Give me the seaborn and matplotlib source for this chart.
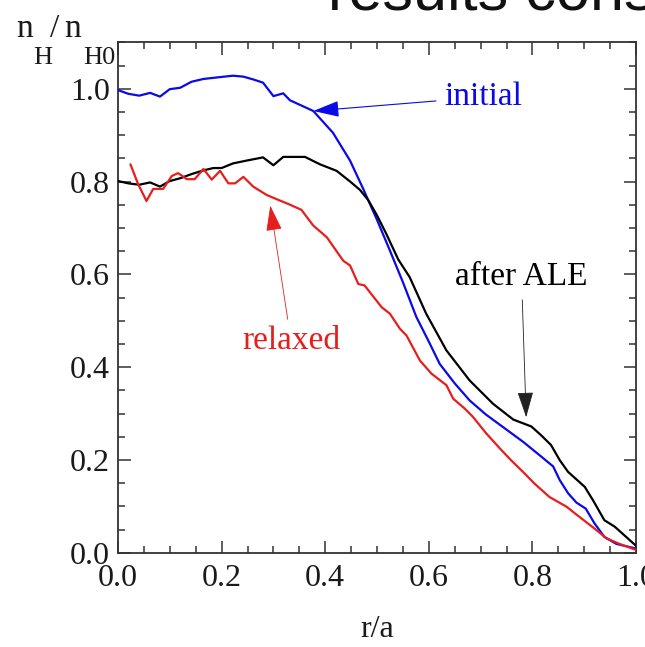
import numpy as np
import pandas as pd
import matplotlib
matplotlib.use("Agg")
import matplotlib.pyplot as plt
import seaborn as sns
from matplotlib.ticker import MultipleLocator

# ---------------- data ----------------
blue_x = [0.0, 0.02, 0.041, 0.062, 0.081, 0.10, 0.12, 0.142, 0.165, 0.197, 0.222, 0.242,
          0.261, 0.28, 0.30, 0.319, 0.332, 0.377, 0.415, 0.448, 0.473, 0.499, 0.525, 0.55,
          0.576, 0.60, 0.621, 0.65, 0.679, 0.71, 0.743, 0.782, 0.814, 0.84, 0.853, 0.869,
          0.885, 0.903, 0.92, 0.939, 0.962, 0.981, 1.0]
blue_y = [0.997, 0.989, 0.985, 0.991, 0.983, 0.999, 1.002, 1.015, 1.021, 1.025, 1.028, 1.026,
          1.020, 1.013, 0.984, 0.990, 0.975, 0.952, 0.905, 0.845, 0.785, 0.72, 0.651, 0.583,
          0.508, 0.455, 0.407, 0.365, 0.328, 0.298, 0.271, 0.239, 0.210, 0.186, 0.156, 0.128,
          0.108, 0.095, 0.063, 0.034, 0.019, 0.014, 0.009]

black_x = [0.0, 0.02, 0.041, 0.062, 0.081, 0.10, 0.12, 0.142, 0.165, 0.184, 0.20, 0.222,
           0.248, 0.28, 0.30, 0.319, 0.361, 0.39, 0.422, 0.448, 0.467, 0.483, 0.50, 0.518,
           0.541, 0.563, 0.595, 0.634, 0.679, 0.724, 0.763, 0.798, 0.817, 0.836, 0.853,
           0.869, 0.885, 0.901, 0.917, 0.939, 0.959, 0.981, 1.0]
black_y = [0.801, 0.796, 0.793, 0.798, 0.789, 0.801, 0.807, 0.816, 0.824, 0.829, 0.829, 0.839,
           0.845, 0.852, 0.835, 0.853, 0.853, 0.837, 0.823, 0.800, 0.782, 0.760, 0.727, 0.687,
           0.632, 0.594, 0.515, 0.436, 0.371, 0.321, 0.287, 0.272, 0.253, 0.232, 0.199,
           0.174, 0.158, 0.142, 0.113, 0.070, 0.056, 0.034, 0.015]

red_x = [0.024, 0.039, 0.055, 0.068, 0.087, 0.104, 0.116, 0.133, 0.148, 0.165, 0.181, 0.197,
         0.213, 0.226, 0.242, 0.261, 0.287, 0.306, 0.332, 0.354, 0.377, 0.403, 0.435, 0.448,
         0.464, 0.476, 0.509, 0.525, 0.544, 0.557, 0.583, 0.605, 0.634, 0.647, 0.669, 0.685,
         0.711, 0.737, 0.759, 0.782, 0.804, 0.833, 0.866, 0.891, 0.92, 0.943, 0.968, 1.0]
red_y = [0.837, 0.794, 0.758, 0.784, 0.784, 0.812, 0.818, 0.805, 0.805, 0.827, 0.804, 0.823,
         0.796, 0.796, 0.810, 0.789, 0.771, 0.762, 0.750, 0.739, 0.705, 0.680, 0.629, 0.619,
         0.579, 0.576, 0.529, 0.515, 0.483, 0.468, 0.414, 0.386, 0.361, 0.332, 0.311, 0.293,
         0.257, 0.225, 0.199, 0.174, 0.149, 0.120, 0.099, 0.077, 0.052, 0.031, 0.019, 0.006]

x_ticks = [0.0, 0.2, 0.4, 0.6, 0.8, 1.0]
y_ticks = [0.0, 0.2, 0.4, 0.6, 0.8, 1.0]

BLUE = "#0a0ae6"
RED = "#e61e1e"
BLACK = "#000000"

# ---------------- style ----------------
sns.set_style("ticks")
plt.rcParams["font.family"] = ["Liberation Serif", "DejaVu Serif"]

W, H = 645, 647
fig = plt.figure(figsize=(W / 100, H / 100), dpi=100)
ax = fig.add_axes([118 / W, 1 - 552.7 / H, (636 - 118) / W, (552.7 - 42.3) / H])

df = pd.concat([
    pd.DataFrame({"r": blue_x, "n": blue_y, "case": "initial"}),
    pd.DataFrame({"r": black_x, "n": black_y, "case": "after ALE"}),
    pd.DataFrame({"r": red_x, "n": red_y, "case": "relaxed"}),
])
sns.lineplot(data=df, x="r", y="n", hue="case", sort=False, estimator=None,
             palette={"initial": BLUE, "after ALE": BLACK, "relaxed": RED},
             linewidth=1.6, legend=False, ax=ax, zorder=3)

ax.set_xlim(0, 1.0)
ax.set_ylim(0, 1.1)
ax.set_xticks(x_ticks)
ax.set_yticks(y_ticks)
ax.set_xticklabels([f"{v:.1f}" for v in x_ticks])
ax.set_yticklabels([f"{v:.1f}" for v in y_ticks])
ax.xaxis.set_minor_locator(MultipleLocator(0.05))
ax.yaxis.set_minor_locator(MultipleLocator(0.05))
ax.tick_params(which="both", direction="in", top=True, right=True, colors="#333333",
               width=1.1, labelcolor="#1a1a1a", labelsize=23)
ax.tick_params(which="major", length=9)
ax.tick_params(which="minor", length=5)
ax.tick_params(axis="x", pad=8)
ax.tick_params(axis="y", pad=6)
for s in ax.spines.values():
    s.set_color("#333333")
    s.set_linewidth(1.3)
    s.set_visible(True)

ax.set_xlabel("r/a", fontsize=23, labelpad=16, color="#1a1a1a")
ax.set_ylabel("")

# y label at the top left: n_H / n_H0
big = dict(fontsize=24, color="#1a1a1a", va="baseline")
small = dict(fontsize=19, color="#1a1a1a", va="baseline")
fig.text(16 / W, 1 - 37 / H, "n", **big)
fig.text(33 / W, 1 - 64 / H, "H", **small)
fig.text(50 / W, 1 - 37 / H, "/", **big)
fig.text(64 / W, 1 - 37 / H, "n", **big)
fig.text(83 / W, 1 - 64 / H, "H0", **small)

# slide title fragment cut off at the top
fig.text(328 / W, 1 - 10 / H, "results cons", fontsize=44, family="Liberation Sans",
         color="#111111", va="baseline", ha="left")

# annotations
head = "-|>,head_length=0.9,head_width=0.28"
ax.annotate("initial", xy=(0.377, 0.952), xytext=(0.706, 0.982), color=BLUE,
            fontsize=24, ha="center", va="center",
            arrowprops=dict(arrowstyle=head, color=BLUE,
                            lw=0.8, shrinkA=4, shrinkB=0, mutation_scale=18))
ax.annotate("after ALE", xy=(0.788, 0.292), xytext=(0.779, 0.594), color=BLACK,
            fontsize=24, ha="center", va="center",
            arrowprops=dict(arrowstyle=head, color="#222222",
                            lw=0.6, shrinkA=3, shrinkB=0, mutation_scale=18))
ax.annotate("relaxed", xy=(0.294, 0.748), xytext=(0.334, 0.457), color=RED,
            fontsize=24, ha="center", va="center",
            arrowprops=dict(arrowstyle=head, color=RED,
                            lw=0.6, shrinkA=2, shrinkB=0, mutation_scale=18))

fig.savefig("out.png", dpi=100)
